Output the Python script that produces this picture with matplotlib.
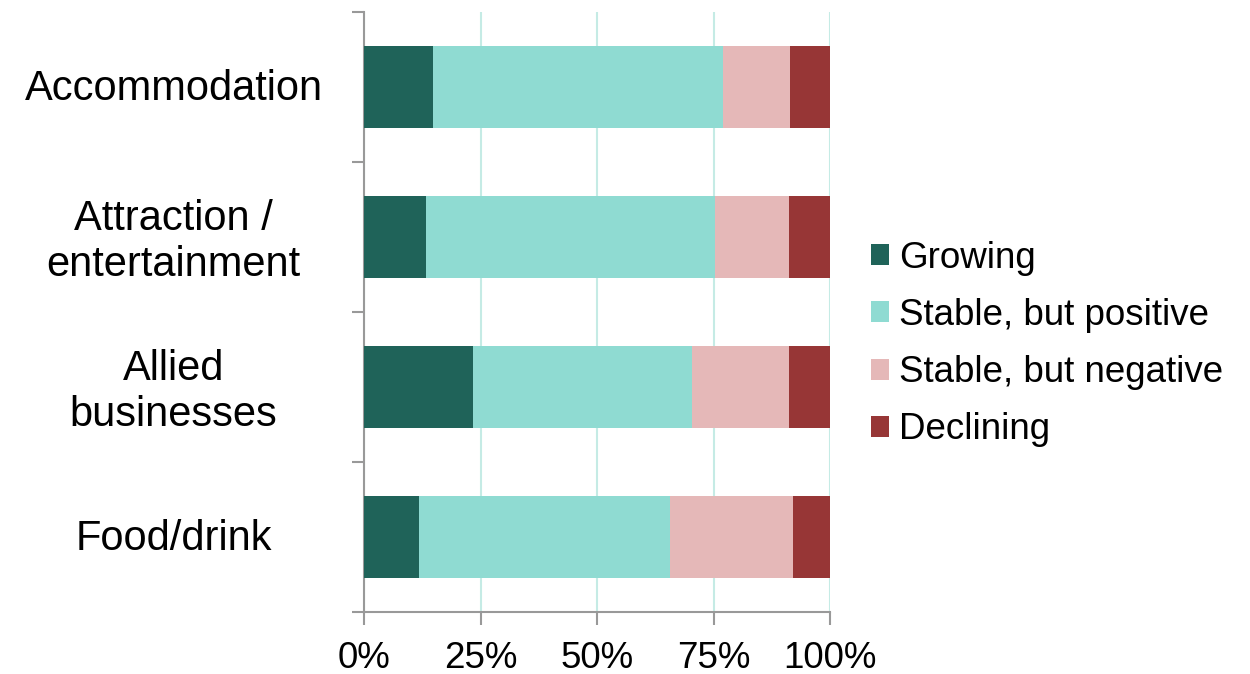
import matplotlib.pyplot as plt
import matplotlib.ticker as ticker
import matplotlib.transforms as mtransforms

plt.rcParams['font.family'] = ['Liberation Sans', 'DejaVu Sans']

sectors = ['Accommodation', 'Attraction /\nentertainment', 'Allied\nbusinesses', 'Food/drink']
series = ['Growing', 'Stable, but positive', 'Stable, but negative', 'Declining']
growing = [14.8, 13.3, 23.4, 11.8]
stable_pos = [62.2, 62.0, 47.0, 53.9]
stable_neg = [14.4, 15.9, 20.8, 26.4]
declining = [8.6, 8.8, 8.8, 7.9]
colors = ['#1f6359', '#8fdbd2', '#e5b8b8', '#973636']

fig = plt.figure(figsize=(12.5, 6.74), dpi=100)
ax = fig.add_axes([0.2912, 0.092, 0.3728, 0.890])

ypos = [3, 2, 1, 0]
left = [0, 0, 0, 0]
for name, vals, col in zip(series, [growing, stable_pos, stable_neg, declining], colors):
    ax.barh(ypos, vals, left=left, height=0.55, color=col, label=name, zorder=3)
    left = [a + b for a, b in zip(left, vals)]

ax.set_xlim(0, 100)
ax.set_ylim(-0.5, 3.5)
ax.xaxis.set_major_locator(ticker.MultipleLocator(25))
ax.xaxis.set_major_formatter(ticker.FuncFormatter(lambda v, p: f'{v:.0f}%'))
ax.grid(axis='x', color='#c5ebe5', linewidth=1.5, zorder=0)

ax.set_yticks(ypos)
ax.set_yticklabels(sectors, fontsize=30, linespacing=1.2)
ax.yaxis.set_minor_locator(ticker.FixedLocator([-0.5, 0.5, 1.5, 2.5, 3.5]))
ax.tick_params(axis='y', which='major', length=0, pad=137)
ax.tick_params(axis='y', which='minor', length=9, width=1.5, color='#999999')
ax.tick_params(axis='x', labelsize=26.5, length=9, width=1.5, color='#999999', pad=12)

# center the category names and nudge them up a little
shift = mtransforms.ScaledTranslation(0, 3 / 100, fig.dpi_scale_trans)
for lab in ax.get_yticklabels():
    lab.set_horizontalalignment('center')
    lab.set_transform(lab.get_transform() + shift)

for s in ['top', 'right']:
    ax.spines[s].set_visible(False)
for s in ['left', 'bottom']:
    ax.spines[s].set_color('#999999')
    ax.spines[s].set_linewidth(1.5)

fig.legend(loc='center left', bbox_to_anchor=(0.682, 0.4895), frameon=False,
           fontsize=26.5, handlelength=0.5, handleheight=0.5, handletextpad=0.27,
           labelspacing=0.6, borderpad=0)

fig.savefig('out.png', dpi=100)
